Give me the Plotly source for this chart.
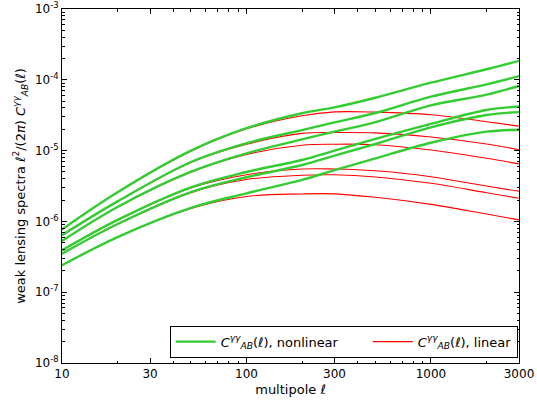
import plotly.graph_objects as go

ell = [10, 20, 50, 100, 200, 300, 500, 1000, 2000, 3000]

nonlinear = [
    [7.7e-7, 2.58e-6, 9.97e-6, 2.07e-5, 3.37e-5, 4.08e-5, 5.58e-5, 9.1e-5, 1.41e-4, 1.85e-4],
    [6.4e-7, 1.92e-6, 6.9e-6, 1.27e-5, 1.95e-5, 2.5e-5, 3.4e-5, 5.77e-5, 8.63e-5, 1.13e-4],
    [5.3e-7, 1.60e-6, 5.03e-6, 9.16e-6, 1.44e-5, 1.85e-5, 2.53e-5, 4.36e-5, 6.17e-5, 8.2e-5],
    [3.9e-7, 1.05e-6, 3.03e-6, 4.99e-6, 7.36e-6, 1.0e-5, 1.46e-5, 2.38e-5, 3.74e-5, 4.2e-5],
    [3.5e-7, 9.2e-7, 2.60e-6, 4.2e-6, 6.26e-6, 8.5e-6, 1.24e-5, 2.13e-5, 3.18e-5, 3.5e-5],
    [2.4e-7, 6.0e-7, 1.55e-6, 2.49e-6, 3.85e-6, 5.3e-6, 7.78e-6, 1.29e-5, 1.85e-5, 1.97e-5],
]

linear = [
    [7.7e-7, 2.57e-6, 9.8e-6, 2.03e-5, 3.11e-5, 3.52e-5, 3.5e-5, 3.21e-5, 2.56e-5, 2.22e-5],
    [6.4e-7, 1.91e-6, 6.8e-6, 1.23e-5, 1.75e-5, 1.8e-5, 1.78e-5, 1.56e-5, 1.24e-5, 1.03e-5],
    [5.3e-7, 1.59e-6, 4.95e-6, 8.8e-6, 1.19e-5, 1.23e-5, 1.21e-5, 1.02e-5, 7.78e-6, 6.5e-6],
    [3.9e-7, 1.04e-6, 2.97e-6, 4.57e-6, 5.5e-6, 5.5e-6, 5.2e-6, 4.28e-6, 3.16e-6, 2.66e-6],
    [3.5e-7, 9.1e-7, 2.55e-6, 3.9e-6, 4.48e-6, 4.55e-6, 4.24e-6, 3.45e-6, 2.54e-6, 2.12e-6],
    [2.4e-7, 5.95e-7, 1.52e-6, 2.25e-6, 2.44e-6, 2.45e-6, 2.19e-6, 1.74e-6, 1.27e-6, 1.05e-6],
]

x_tickvals = [10, 30, 100, 300, 1000, 3000]
x_ticktext = ["10", "30", "100", "300", "1000", "3000"]
x_minor = [20, 40, 50, 60, 70, 80, 90, 200, 400, 500, 600, 700, 800, 900, 2000]
y_tickvals = [1e-8, 1e-7, 1e-6, 1e-5, 1e-4, 1e-3]
y_ticktext = ["10<sup>-8</sup>", "10<sup>-7</sup>", "10<sup>-6</sup>", "10<sup>-5</sup>",
              "10<sup>-4</sup>", "10<sup>-3</sup>"]
y_minor = [m * 10.0 ** e for e in range(-8, -3) for m in range(2, 10)]

GREEN = "#33cc33"
RED = "#ff0000"
label = "<i>C</i><sup><i>γγ</i></sup><sub><i>AB</i></sub>(<i>ℓ</i>)"

fig = go.Figure()
for i, ys in enumerate(linear):
    fig.add_trace(go.Scatter(x=ell, y=ys, mode="lines", line=dict(color=RED, width=1.1, shape="spline"),
                             name=label + ", linear", showlegend=(i == 0), legendrank=2))
for i, ys in enumerate(nonlinear):
    fig.add_trace(go.Scatter(x=ell, y=ys, mode="lines", line=dict(color=GREEN, width=2.4, shape="spline"),
                             name=label + ", nonlinear&nbsp;&nbsp;&nbsp;&nbsp;&nbsp;&nbsp;",
                             showlegend=(i == 0), legendrank=1))

axis_common = dict(showline=True, linecolor="black", linewidth=1, mirror="allticks",
                   ticks="inside", ticklen=5, tickcolor="black", showgrid=False, zeroline=False,
                   automargin=False,
                   tickfont=dict(family="DejaVu Sans", size=12, color="black"))

fig.update_xaxes(type="log", range=[1, 3.4771], tickvals=x_tickvals, ticktext=x_ticktext,
                 title=dict(text="multipole <i>ℓ</i>", font=dict(family="DejaVu Sans", size=13, color="black"),
                            standoff=4),
                 minor=dict(ticks="inside", ticklen=2.5, tickcolor="black", tickvals=x_minor),
                 **axis_common)
fig.update_yaxes(type="log", range=[-8, -3], tickvals=y_tickvals, ticktext=y_ticktext,
                 title=dict(text="weak lensing spectra <i>ℓ</i><sup>2</sup>/(2<i>π</i>) " + label,
                            font=dict(family="DejaVu Sans", size=13, color="black"), standoff=6),
                 minor=dict(ticks="inside", ticklen=2.5, tickcolor="black", tickvals=y_minor),
                 **axis_common)

fig.update_layout(
    width=537, height=403,
    margin=dict(l=62, r=18, t=9, b=40),
    plot_bgcolor="white", paper_bgcolor="white",
    font=dict(family="DejaVu Sans", size=12, color="black"),
    legend=dict(orientation="h", x=0.997, xanchor="right", y=0.015, yanchor="bottom",
                bordercolor="black", borderwidth=1, bgcolor="white",
                font=dict(family="DejaVu Sans", size=13), itemwidth=40),
)

fig.write_html("out.html")
